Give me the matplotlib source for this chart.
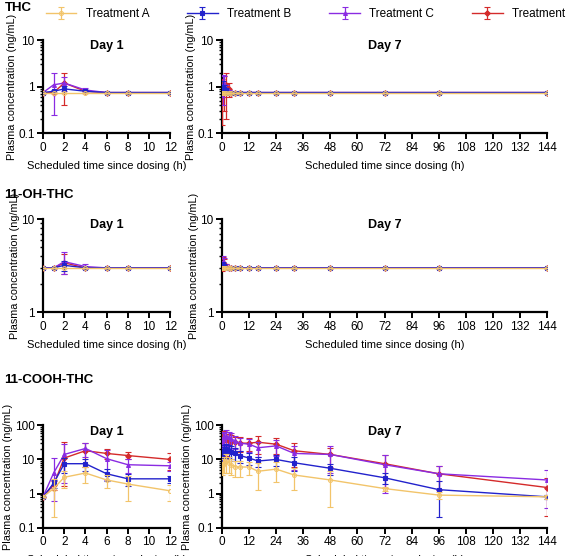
import numpy as np
import matplotlib
matplotlib.use("Agg")
import matplotlib.pyplot as plt
from matplotlib.ticker import LogLocator, NullFormatter, FixedLocator

plt.rcParams["font.family"] = ["Liberation Sans", "DejaVu Sans"]

T1 = [0, 1, 2, 4, 6, 8, 12]
T7 = [0, 0.5, 1, 2, 3, 4, 6, 8, 12, 16, 24, 32, 48, 72, 96, 144]

TREATMENTS = ["Treatment A", "Treatment B", "Treatment C", "Treatment D"]
COLORS = ["#F2C46A", "#2222CC", "#8A2BE2", "#D42A2A"]
MARKERS = ["o", "s", "^", "D"]

# THC
thc_d1 = [
    [0.75] * 7,
    [0.75, 0.8, 0.9, 0.8, 0.75, 0.75, 0.75],
    [0.75, 1.1, 1.2, 0.85, 0.75, 0.75, 0.75],
    [0.75, 0.75, 1.2, 0.8, 0.75, 0.75, 0.75],
]
thc_d1_sd = [
    [0] * 7,
    [0, 0.05, 0.15, 0.05, 0, 0, 0],
    [0, 0.85, 0.4, 0.1, 0, 0, 0],
    [0, 0, 0.8, 0.05, 0, 0, 0],
]
thc_d7 = [
    [0.75] * 16,
    [0.8, 1.0, 0.9, 0.85, 0.75] + [0.75] * 11,
    [0.8, 1.1, 1.2, 0.9, 0.8] + [0.75] * 11,
    [0.8, 0.9, 1.0, 1.1, 0.9] + [0.75] * 11,
]
thc_d7_sd = [
    [0] * 16,
    [0.1, 0.3, 0.2, 0.1, 0] + [0] * 11,
    [0.2, 0.7, 0.5, 0.2, 0.05] + [0] * 11,
    [0.65, 0.3, 0.7, 0.9, 0.3] + [0] * 11,
]

# 11-OH-THC
oh_d1 = [
    [3.0] * 7,
    [3.0, 3.0, 3.2, 3.0, 3.0, 3.0, 3.0],
    [3.0, 3.0, 3.5, 3.1, 3.0, 3.0, 3.0],
    [3.0, 3.0, 3.4, 3.0, 3.0, 3.0, 3.0],
]
oh_d1_sd = [
    [0] * 7,
    [0, 0, 0.4, 0, 0, 0, 0],
    [0, 0, 0.9, 0.2, 0, 0, 0],
    [0, 0, 0.8, 0, 0, 0, 0],
]
oh_d7 = [
    [3.0] * 16,
    [3.1, 3.2, 3.1, 3.0] + [3.0] * 12,
    [3.2, 3.5, 3.4, 3.1] + [3.0] * 12,
    [3.1, 3.4, 3.3, 3.1] + [3.0] * 12,
]
oh_d7_sd = [
    [0] * 16,
    [0.2, 0.3, 0.2, 0] + [0] * 12,
    [0.3, 0.5, 0.4, 0.2] + [0] * 12,
    [0.3, 0.5, 0.4, 0.2] + [0] * 12,
]

# 11-COOH-THC
cooh_d1 = [
    [0.8, 1.4, 3.0, 4.0, 2.5, 1.9, 1.2],
    [0.8, 2.0, 7.5, 7.5, 3.8, 2.7, 2.7],
    [0.8, 4.0, 14.0, 21.0, 10.5, 7.0, 6.5],
    [0.8, 1.8, 11.0, 18.0, 15.0, 13.0, 10.0],
]
cooh_d1_sd = [
    [0, 1.2, 1.5, 2.0, 1.0, 1.3, 0.6],
    [0, 0.5, 3.5, 3.0, 1.5, 1.0, 0.6],
    [0, 7.0, 15.0, 9.0, 8.0, 3.0, 2.0],
    [0, 0.5, 22.0, 12.0, 5.0, 3.0, 5.0],
]
cooh_d7 = [
    [6, 7, 8, 9, 8, 7, 6, 6, 6, 4.5, 5.2, 3.5, 2.5, 1.4, 0.9, 0.8],
    [14, 16, 18, 20, 18, 17, 15, 13, 11, 9, 10, 8, 5.5, 2.9, 1.3, 0.8],
    [30, 40, 45, 50, 45, 40, 35, 30, 28, 22, 25, 15, 14, 7, 3.8, 2.5],
    [35, 40, 40, 38, 35, 33, 32, 30, 30, 32, 28, 18, 14, 7.5, 3.8, 1.5],
]
cooh_d7_sd = [
    [2.5, 3, 4, 5, 4, 3.5, 3, 3, 2.5, 3.2, 3, 2.2, 2.1, 0.2, 0.2, 0.1],
    [6, 7, 8, 9, 8, 7, 6, 5, 4, 3, 3.5, 3.5, 2, 1, 1.1, 0.1],
    [15, 20, 20, 22, 20, 18, 15, 12, 12, 10, 12, 10, 10, 6.5, 2.5, 2.5],
    [20, 30, 30, 25, 20, 18, 15, 14, 12, 18, 14, 12, 8, 6, 2.5, 1.35],
]

ROWS = [
    ("THC", (0.1, 10), thc_d1, thc_d1_sd, thc_d7, thc_d7_sd),
    ("11-OH-THC", (1, 10), oh_d1, oh_d1_sd, oh_d7, oh_d7_sd),
    ("11-COOH-THC", (0.1, 100), cooh_d1, cooh_d1_sd, cooh_d7, cooh_d7_sd),
]
ROW_TOP = [0.928, 0.606, 0.235]
ROW_H = [0.168, 0.168, 0.184]
ROW_LABEL_Y = [0.985, 0.65, 0.317]


def style(ax, ylim, xticks):
    ax.set_yscale("log")
    ax.set_ylim(*ylim)
    ax.set_xlim(xticks[0], xticks[-1])
    ax.xaxis.set_major_locator(FixedLocator(xticks))
    ax.yaxis.set_major_locator(LogLocator(base=10))
    ax.yaxis.set_minor_locator(LogLocator(base=10, subs=np.arange(2, 10)))
    ax.yaxis.set_minor_formatter(NullFormatter())
    ax.yaxis.set_major_formatter(plt.FuncFormatter(lambda v, p: f"{v:g}"))
    for s in ("top", "right"):
        ax.spines[s].set_visible(False)
    for s in ("left", "bottom"):
        ax.spines[s].set_linewidth(1.6)
    ax.tick_params(which="major", length=4, width=1.4, labelsize=8.5, pad=2)
    ax.tick_params(which="minor", length=2.5, width=1.0)
    ax.set_ylabel("Plasma concentration (ng/mL)", fontsize=7.8, labelpad=1)
    ax.set_xlabel("Scheduled time since dosing (h)", fontsize=8, labelpad=5)


fig = plt.figure(figsize=(5.66, 5.56), dpi=100)

for (name, ylim, d1, s1, d7, s7), top, h, ly in zip(ROWS, ROW_TOP, ROW_H, ROW_LABEL_Y):
    ax1 = fig.add_axes([0.076, top - h, 0.225, h])
    ax7 = fig.add_axes([0.392, top - h, 0.575, h])
    for ax, t, data, sd, title, xt in (
        (ax1, T1, d1, s1, "Day 1", list(range(0, 13, 2))),
        (ax7, T7, d7, s7, "Day 7", list(range(0, 145, 12))),
    ):
        for k in range(3, -1, -1):
            y = np.array(data[k], float)
            e = np.array(sd[k], float)
            lo = np.minimum(e, y * 0.85)
            ax.errorbar(t, y, yerr=[lo, e], color=COLORS[k], marker=MARKERS[k],
                        ms=2.8, lw=1.0, elinewidth=0.9, capsize=2, capthick=0.9,
                        mfc=COLORS[k] if k else "none", mew=0.8,
                        label=TREATMENTS[k], zorder=3 + (3 - k))
        style(ax, ylim, xt)
        ax.set_title(title, fontsize=9, fontweight="bold", y=0.82)
    fig.text(0.008, ly, name, fontsize=9.5, fontweight="bold",
             ha="left", va="center")

handles, labels = ax1.get_legend_handles_labels()
fig.legend(handles[::-1], labels[::-1], loc="upper center", ncol=4,
           bbox_to_anchor=(0.55, 1.005), frameon=False, fontsize=8.5,
           columnspacing=3.2, handlelength=2.6)

fig.savefig("out.png", dpi=100, facecolor="white")
